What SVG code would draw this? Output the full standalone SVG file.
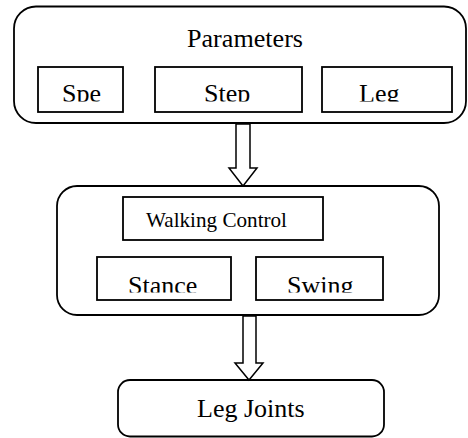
<svg xmlns="http://www.w3.org/2000/svg" width="468" height="438" viewBox="0 0 468 438">
<style>
.frame{fill:#fff;stroke:#000;stroke-width:1.8}
.box{fill:#fff;stroke:#000;stroke-width:1.8}
.t{font-family:"Liberation Serif","Times New Roman",serif;fill:#000}
.arrow{fill:#fff;stroke:#000;stroke-width:1.5;stroke-linejoin:miter}
</style>
<defs>
<clipPath id="c1"><rect x="38" y="60" width="420" height="41.5"/></clipPath>
<clipPath id="c2"><rect x="95" y="250" width="300" height="42.5"/></clipPath>
</defs>
<rect width="468" height="438" fill="#fff"/>
<g id="parameters">
<rect class="frame" x="14" y="6.5" width="452" height="116.5" rx="22"/>
<text class="t" x="187" y="47" font-size="26" textLength="116" lengthAdjust="spacingAndGlyphs">Parameters</text>
</g>
<g id="spe">
<rect class="box" x="38" y="67" width="85" height="45"/>
<text class="t" x="62" y="102" font-size="26" clip-path="url(#c1)">Spe</text>
</g>
<g id="step">
<rect class="box" x="155" y="67" width="147" height="45"/>
<text class="t" x="204" y="102" font-size="26" clip-path="url(#c1)">Step</text>
</g>
<g id="leg">
<rect class="box" x="322" y="67" width="130" height="45"/>
<text class="t" x="359" y="102" font-size="26" clip-path="url(#c1)">Leg</text>
</g>
<g id="control-group">
<rect class="frame" x="57" y="186" width="382" height="129" rx="20"/>
</g>
<g id="walking-control">
<rect class="box" x="123" y="197" width="200" height="43"/>
<text class="t" x="146" y="227" font-size="21" textLength="141" lengthAdjust="spacingAndGlyphs">Walking Control</text>
</g>
<g id="stance">
<rect class="box" x="97" y="257" width="134" height="43"/>
<text class="t" x="128" y="294" font-size="26" clip-path="url(#c2)">Stance</text>
</g>
<g id="swing">
<rect class="box" x="256" y="257" width="127" height="43"/>
<text class="t" x="287" y="294" font-size="26" clip-path="url(#c2)">Swing</text>
</g>
<g id="leg-joints">
<rect class="frame" x="118" y="380" width="266" height="56.5" rx="12"/>
<text class="t" x="197" y="417" font-size="26">Leg Joints</text>
</g>
<g id="connectors">
<polygon class="arrow" points="236,124 250,124 250,168 257,168 243,186 229,168 236,168"/>
<polygon class="arrow" points="243,316 256,316 256,363 263,363 249,380 235,363 243,363"/>
</g>
</svg>
